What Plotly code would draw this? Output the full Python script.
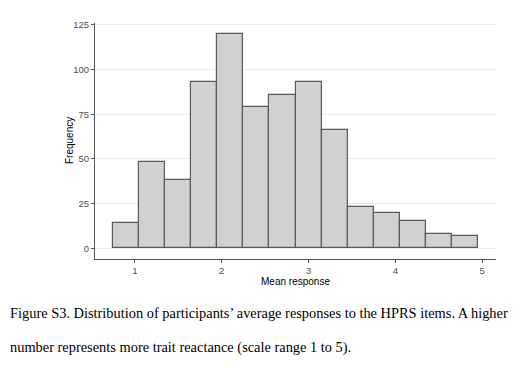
import plotly.graph_objects as go

# Histogram bins (left edges, right edges) and counts
bin_left = [0.75, 1.05, 1.35, 1.65, 1.95, 2.25, 2.55, 2.85, 3.15, 3.45, 3.75, 4.05, 4.35, 4.65]
bin_right = [1.05, 1.35, 1.65, 1.95, 2.25, 2.55, 2.85, 3.15, 3.45, 3.75, 4.05, 4.35, 4.65, 4.95]
counts = [14, 48, 38, 93, 120, 79, 86, 93, 66, 23, 20, 15, 8, 7]

x_ticks = [1, 2, 3, 4, 5]
y_ticks = [0, 25, 50, 75, 100, 125]

x_title = "Mean response"
y_title = "Frequency"
caption_1 = "Figure S3. Distribution of participants\u2019 average responses to the HPRS items. A higher"
caption_2 = "number represents more trait reactance (scale range 1 to 5)."

centers = [(a + b) / 2 for a, b in zip(bin_left, bin_right)]
widths = [b - a for a, b in zip(bin_left, bin_right)]

fig = go.Figure()
fig.add_trace(go.Bar(
    x=centers, y=counts, width=widths,
    marker=dict(color="#D1D1D1", line=dict(color="#5A5A5A", width=1.2)),
    hoverinfo="x+y",
))

tick_font = dict(family="Liberation Sans, Arial, sans-serif", size=9.5, color="#4D4D4D")
title_font = dict(family="Liberation Sans, Arial, sans-serif", size=10, color="#000000")

# page body has an 8px default margin, so the figure is offset by 8px
W, H = 512, 359
ML, MR, MT, MB = 87, 24, 15, 108
plot_w = W - ML - MR
plot_h = H - MT - MB

fig.update_layout(
    width=W, height=H,
    margin=dict(l=ML, r=MR, t=MT, b=MB),
    paper_bgcolor="white", plot_bgcolor="white",
    showlegend=False,
    bargap=0,
    xaxis=dict(
        range=[0.54, 5.16],
        tickmode="array", tickvals=x_ticks, ticktext=[str(v) for v in x_ticks],
        ticks="outside", ticklen=3, tickwidth=1, tickcolor="#555555",
        showline=True, linecolor="#555555", linewidth=1,
        showgrid=False, zeroline=False,
        tickfont=tick_font,
        title=dict(text=x_title, font=title_font, standoff=2),
    ),
    yaxis=dict(
        range=[-6, 126],
        tickmode="array", tickvals=y_ticks, ticktext=[str(v) for v in y_ticks],
        ticks="outside", ticklen=3, tickwidth=1, tickcolor="#555555",
        showline=True, linecolor="#555555", linewidth=1,
        showgrid=True, gridcolor="#EBEBEB", gridwidth=1,
        zeroline=False,
        tickfont=tick_font,
    ),
)

# y-axis title as rotated annotation
fig.add_annotation(text=y_title, xref="paper", yref="paper",
                   x=(69 - 8 - ML) / plot_w, y=0.5, xanchor="center", yanchor="middle",
                   textangle=-90, showarrow=False, font=title_font)

cap_font = dict(family="Liberation Serif, Times New Roman, serif", size=14.4, color="#000000")
cap_x = (0 - ML) / plot_w
fig.add_annotation(text=caption_1, xref="paper", yref="paper",
                   x=cap_x, y=(plot_h - (312.5 - 8 - MT)) / plot_h,
                   xanchor="left", yanchor="middle",
                   showarrow=False, font=cap_font)
fig.add_annotation(text=caption_2, xref="paper", yref="paper",
                   x=cap_x, y=(plot_h - (347.5 - 8 - MT)) / plot_h,
                   xanchor="left", yanchor="middle",
                   showarrow=False, font=cap_font)

fig.write_html("out.html")
